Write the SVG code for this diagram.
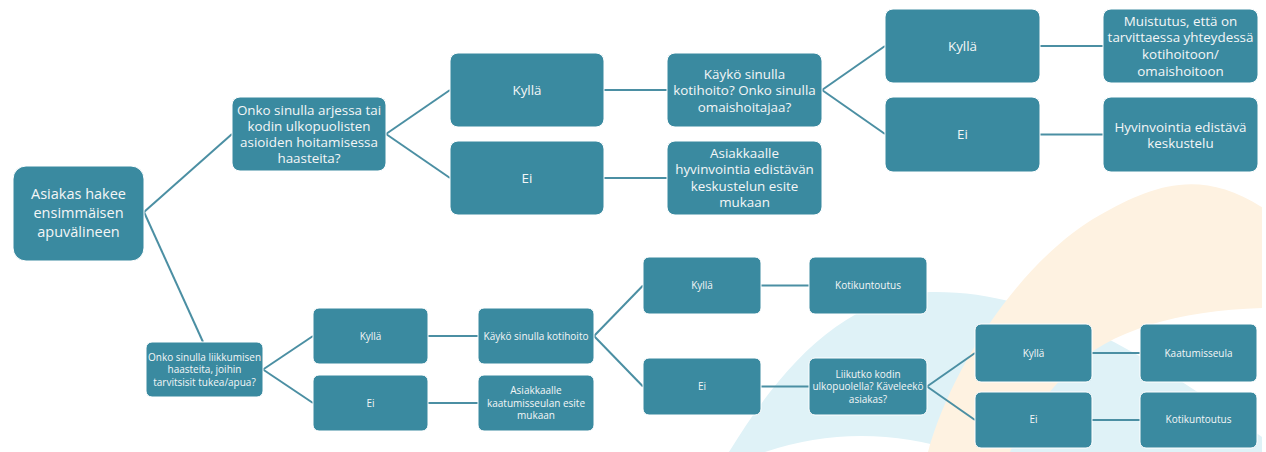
<svg xmlns="http://www.w3.org/2000/svg" width="1266" height="452" viewBox="0 0 1266 452">
<style>
.n rect{fill:#3a8aa0;stroke:#ffffff;stroke-width:1}
.n text{fill:#f4f6f7;font-family:"Open Sans","Noto Sans",sans-serif;text-anchor:middle}
.big text{font-size:13.4px}
.root text{font-size:14.5px}
.sm text{font-size:10px}
#connectors line{stroke:#4b8fa3;stroke-width:2;fill:none}
</style>
<defs>
<clipPath id="bgclip"><rect x="0" y="0" width="1262" height="452"/></clipPath>
</defs>
<rect x="0" y="0" width="1266" height="452" fill="#ffffff"/>
<g id="background" clip-path="url(#bgclip)">
<path fill="#dff2f7" fill-rule="evenodd" d="M 729 452 C 778 372 840 298 930 292 C 1030 290 1130 340 1266 440 L 1266 452 Z M 765 452 Q 860 420 960 452 Z"/>
<path fill="#fef2e1" d="M 928 452 C 950 370 1020 260 1100 215 C 1150 187 1200 165 1266 210 L 1266 308 C 1180 310 1110 330 1070 370 C 1040 400 1020 430 1010 452 Z"/>
</g>
<g id="connectors">
<line x1="144" y1="212" x2="232" y2="134"/>
<line x1="144" y1="212" x2="203" y2="342"/>
<line x1="386" y1="134" x2="450" y2="90"/>
<line x1="386" y1="134" x2="450" y2="178"/>
<line x1="604" y1="90" x2="667" y2="90"/>
<line x1="604" y1="178" x2="667" y2="178"/>
<line x1="822" y1="90" x2="885" y2="46"/>
<line x1="822" y1="90" x2="885" y2="134"/>
<line x1="1040" y1="46" x2="1103" y2="46"/>
<line x1="1040" y1="134.5" x2="1103" y2="134.5"/>
<line x1="263" y1="369.5" x2="313" y2="336"/>
<line x1="263" y1="369.5" x2="313" y2="403"/>
<line x1="428" y1="336" x2="478" y2="336"/>
<line x1="428" y1="403" x2="478" y2="403"/>
<line x1="594" y1="336" x2="643" y2="285.5"/>
<line x1="594" y1="336" x2="643" y2="386.5"/>
<line x1="761" y1="285.5" x2="809" y2="285.5"/>
<line x1="761" y1="386.5" x2="809" y2="386.5"/>
<line x1="927" y1="386.5" x2="975" y2="353"/>
<line x1="927" y1="386.5" x2="975" y2="420"/>
<line x1="1092" y1="353" x2="1140" y2="353"/>
<line x1="1092" y1="420" x2="1140" y2="420"/>
</g>
<g id="root" class="n root">
<rect x="13" y="166" width="131" height="95" rx="13"/>
<text x="78.5" y="199">Asiakas hakee</text>
<text x="78.5" y="218">ensimmäisen</text>
<text x="78.5" y="237">apuvälineen</text>
</g>
<g id="q1" class="n big">
<rect x="232" y="97" width="154" height="74" rx="8"/>
<text x="309" y="114.7">Onko sinulla arjessa tai</text>
<text x="309" y="130.7">kodin ulkopuolisten</text>
<text x="309" y="146.7">asioiden hoitamisessa</text>
<text x="309" y="162.7">haasteita?</text>
</g>
<g id="q1-kylla" class="n big">
<rect x="450" y="53" width="154" height="74" rx="8"/>
<text x="527" y="94.7">Kyllä</text>
</g>
<g id="q1-ei" class="n big">
<rect x="450" y="141" width="154" height="74" rx="8"/>
<text x="527" y="182.7">Ei</text>
</g>
<g id="q3" class="n big">
<rect x="667" y="53" width="155" height="74" rx="8"/>
<text x="744.5" y="78.7">Käykö sinulla</text>
<text x="744.5" y="95.2">kotihoito? Onko sinulla</text>
<text x="744.5" y="111.7">omaishoitajaa?</text>
</g>
<g id="esite1" class="n big">
<rect x="667" y="141" width="155" height="74" rx="8"/>
<text x="744.5" y="157.7">Asiakkaalle</text>
<text x="744.5" y="174.2">hyvinvointia edistävän</text>
<text x="744.5" y="190.7">keskustelun esite</text>
<text x="744.5" y="207.2">mukaan</text>
</g>
<g id="q3-kylla" class="n big">
<rect x="885" y="9" width="155" height="74" rx="8"/>
<text x="962.5" y="50.7">Kyllä</text>
</g>
<g id="q3-ei" class="n big">
<rect x="885" y="97" width="155" height="75" rx="8"/>
<text x="962.5" y="139.2">Ei</text>
</g>
<g id="muistutus" class="n big">
<rect x="1103" y="9" width="155" height="74" rx="8"/>
<text x="1180.5" y="25.7">Muistutus, että on</text>
<text x="1180.5" y="42.4">tarvittaessa yhteydessä</text>
<text x="1180.5" y="59">kotihoitoon/</text>
<text x="1180.5" y="75.7">omaishoitoon</text>
</g>
<g id="keskustelu" class="n big">
<rect x="1103" y="97" width="155" height="75" rx="8"/>
<text x="1180.5" y="131.7">Hyvinvointia edistävä</text>
<text x="1180.5" y="147.7">keskustelu</text>
</g>
<g id="q2" class="n sm">
<rect x="146" y="342" width="117" height="55" rx="6"/>
<text x="204.5" y="360.5">Onko sinulla liikkumisen</text>
<text x="204.5" y="373">haasteita, joihin</text>
<text x="204.5" y="385.5">tarvitsisit tukea/apua?</text>
</g>
<g id="q2-kylla" class="n sm">
<rect x="313" y="308" width="115" height="56" rx="6"/>
<text x="370.5" y="339.5">Kyllä</text>
</g>
<g id="q2-ei" class="n sm">
<rect x="313" y="375" width="115" height="56" rx="6"/>
<text x="370.5" y="406.5">Ei</text>
</g>
<g id="q4" class="n sm">
<rect x="478" y="308" width="116" height="56" rx="6"/>
<text x="536" y="339.5">Käykö sinulla kotihoito</text>
</g>
<g id="esite2" class="n sm">
<rect x="478" y="375" width="116" height="56" rx="6"/>
<text x="536" y="394">Asiakkaalle</text>
<text x="536" y="406.5">kaatumisseulan esite</text>
<text x="536" y="419">mukaan</text>
</g>
<g id="q4-kylla" class="n sm">
<rect x="643" y="257" width="118" height="57" rx="6"/>
<text x="702" y="289">Kyllä</text>
</g>
<g id="kotikuntoutus1" class="n sm">
<rect x="809" y="257" width="118" height="57" rx="6"/>
<text x="868" y="289">Kotikuntoutus</text>
</g>
<g id="q4-ei" class="n sm">
<rect x="643" y="358" width="118" height="57" rx="6"/>
<text x="702" y="390">Ei</text>
</g>
<g id="q5" class="n sm">
<rect x="809" y="358" width="118" height="57" rx="6"/>
<text x="868" y="377.5">Liikutko kodin</text>
<text x="868" y="390">ulkopuolella? Käveleekö</text>
<text x="868" y="402.5">asiakas?</text>
</g>
<g id="q5-kylla" class="n sm">
<rect x="975" y="324" width="117" height="58" rx="6"/>
<text x="1033.5" y="356.5">Kyllä</text>
</g>
<g id="q5-ei" class="n sm">
<rect x="975" y="392" width="117" height="56" rx="6"/>
<text x="1033.5" y="423">Ei</text>
</g>
<g id="kaatumisseula" class="n sm">
<rect x="1140" y="324" width="117" height="58" rx="6"/>
<text x="1198.5" y="356.5">Kaatumisseula</text>
</g>
<g id="kotikuntoutus2" class="n sm">
<rect x="1140" y="392" width="117" height="56" rx="6"/>
<text x="1198.5" y="423">Kotikuntoutus</text>
</g>
</svg>
